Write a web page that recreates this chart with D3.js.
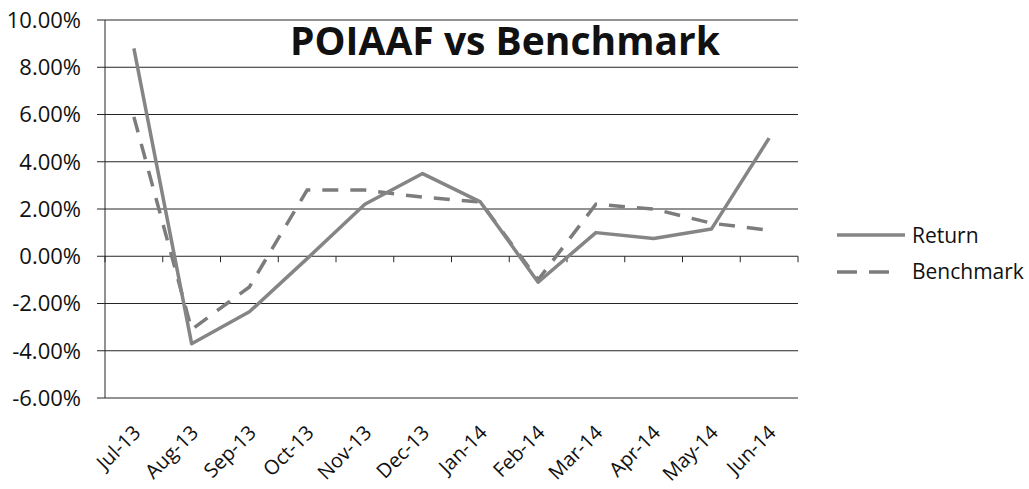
<!DOCTYPE html>
<html>
<head>
<meta charset="utf-8">
<script src="https://cdn.jsdelivr.net/npm/d3@7"></script>
<style>
  body { margin: 0; background: #fff; }
  text { font-family: "Open Sans", "DejaVu Sans", sans-serif; fill: #111; }
</style>
</head>
<body>
<div id="chart"></div>
<script>
var months = ["Jul-13", "Aug-13", "Sep-13", "Oct-13", "Nov-13", "Dec-13",
              "Jan-14", "Feb-14", "Mar-14", "Apr-14", "May-14", "Jun-14"];
var returnVals    = [8.8, -3.7, -2.35, -0.1, 2.2, 3.5, 2.3, -1.1, 1.0, 0.75, 1.15, 5.0];
var benchmarkVals = [5.9, -3.1, -1.3, 2.8, 2.8, 2.5, 2.3, -1.0, 2.2, 2.0, 1.4, 1.1];
var yTicks = [-6, -4, -2, 0, 2, 4, 6, 8, 10];
var seriesNames = ["Return", "Benchmark"];

var W = 1029, H = 489;
var svg = d3.select("#chart").append("svg")
    .attr("width", W)
    .attr("height", H);

var x = d3.scaleBand().domain(months).range([105, 798]);
var y = d3.scaleLinear().domain([-6, 10]).range([398, 20]);

// horizontal gridlines + left ticks
svg.append("g")
    .selectAll("line")
    .data(yTicks)
    .enter().append("line")
    .attr("x1", 97)
    .attr("x2", 798)
    .attr("y1", d => y(d))
    .attr("y2", d => y(d))
    .attr("stroke", "#262626")
    .attr("stroke-width", 1);

// y axis line
svg.append("line")
    .attr("x1", 105).attr("x2", 105)
    .attr("y1", y(10)).attr("y2", y(-6))
    .attr("stroke", "#262626")
    .attr("stroke-width", 1);

// y labels
svg.append("g")
    .selectAll("text")
    .data(yTicks)
    .enter().append("text")
    .attr("x", 81)
    .attr("y", d => y(d))
    .attr("dy", "0.36em")
    .attr("text-anchor", "end")
    .style("font-size", "22px")
    .text(d => d.toFixed(2) + "%");

// x axis ticks at category boundaries on the zero line
var bounds = months.map(m => x(m)).concat([x.range()[1]]);
svg.append("g")
    .selectAll("line")
    .data(bounds)
    .enter().append("line")
    .attr("x1", d => d).attr("x2", d => d)
    .attr("y1", y(0)).attr("y2", y(0) + 6)
    .attr("stroke", "#262626")
    .attr("stroke-width", 1);

// x labels, rotated
svg.append("g")
    .selectAll("text")
    .data(months)
    .enter().append("text")
    .attr("transform", d => "translate(" + (x(d) + x.bandwidth() / 2 + 3) + ",429) rotate(-45)")
    .attr("text-anchor", "end")
    .attr("dy", "0.35em")
    .style("font-size", "20px")
    .text(d => d);

var cx = d => x(d) + x.bandwidth() / 2;

var line = d3.line()
    .x(function (d, i) { return cx(months[i]); })
    .y(function (d) { return y(d); });

svg.append("path")
    .attr("d", line(benchmarkVals))
    .attr("fill", "none")
    .attr("stroke", "#7c7c7c")
    .attr("stroke-width", 3.5)
    .attr("stroke-dasharray", "16,12");

svg.append("path")
    .attr("d", line(returnVals))
    .attr("fill", "none")
    .attr("stroke", "#858585")
    .attr("stroke-width", 3.5)
    .attr("stroke-linejoin", "round");

// title
var title = svg.append("text")
    .attr("x", 505)
    .attr("y", 55)
    .attr("text-anchor", "middle")
    .style("font-size", "32px")
    .style("font-weight", "bold")
    .text("POIAAF vs Benchmark");
var tl = title.node().getComputedTextLength();
title.style("font-size", (32 * 430 / tl) + "px");

// legend
var leg = svg.append("g");
leg.append("line")
    .attr("x1", 837).attr("x2", 905)
    .attr("y1", 235).attr("y2", 235)
    .attr("stroke", "#858585")
    .attr("stroke-width", 3.5);
leg.append("line")
    .attr("x1", 837).attr("x2", 890)
    .attr("y1", 272).attr("y2", 272)
    .attr("stroke", "#7c7c7c")
    .attr("stroke-width", 3.5)
    .attr("stroke-dasharray", "20,12");
leg.selectAll("text")
    .data(seriesNames)
    .enter().append("text")
    .attr("x", 912)
    .attr("y", (d, i) => i === 0 ? 235 : 271)
    .attr("dy", "0.36em")
    .style("font-size", "21px")
    .text(d => d);
</script>
</body>
</html>
